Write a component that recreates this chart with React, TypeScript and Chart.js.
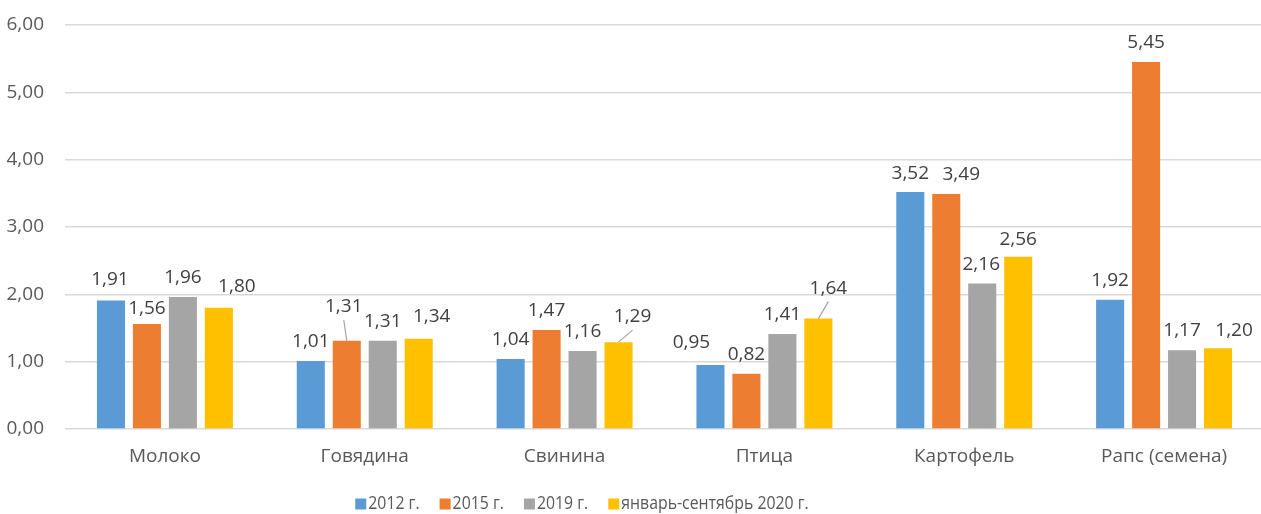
import React, { useEffect, useRef } from 'react';
import { Chart, registerables } from 'chart.js';

Chart.register(...registerables);

// ---- data ----
const categories = ['Молоко', 'Говядина', 'Свинина', 'Птица', 'Картофель', 'Рапс (семена)'];
const seriesNames = ['2012 г.', '2015 г.', '2019 г.', 'январь-сентябрь 2020 г.'];
const values2012 = [1.91, 1.01, 1.04, 0.95, 3.52, 1.92];
const values2015 = [1.56, 1.31, 1.47, 0.82, 3.49, 5.45];
const values2019 = [1.96, 1.31, 1.16, 1.41, 2.16, 1.17];
const values2020 = [1.8, 1.34, 1.29, 1.64, 2.56, 1.2];
const yTickValues = [0, 1, 2, 3, 4, 5, 6];

// ---- styles ----
const seriesColors = ['#5B9BD5', '#ED7D31', '#A5A5A5', '#FFC000'];
const FONT = '"Open Sans", "Noto Sans", sans-serif';
const LEGEND_FONT = '"Open Sans", "Noto Sans", sans-serif';

// label displacement (dx, dy) in px, per series, per category (layout only)
const labelShift2012 = [[-1, -1], [0, 0], [0, 0], [-19, -3], [0, 1], [0, 0]];
const labelShift2015 = [[0, 4], [-3, -15], [0, 0], [0, 0], [15, 0], [0, 0]];
const labelShift2019 = [[0, 0], [0, 0], [0, 0], [0, 0], [-1, 0], [0, 0]];
const labelShift2020 = [[18, -2], [13, -3], [14, -6], [10, -11], [0, 2], [16, 2]];
const labelShifts = [labelShift2012, labelShift2015, labelShift2019, labelShift2020];

const fmt = (v: number) => v.toFixed(2).replace('.', ',');

const dataLabelPlugin = {
  id: 'dataLabels',
  afterDatasetsDraw(chart: any) {
    const ctx = chart.ctx;
    ctx.save();
    ctx.font = `19px ${FONT}`;
    ctx.textAlign = 'center';
    ctx.textBaseline = 'alphabetic';
    chart.data.datasets.forEach((ds: any, i: number) => {
      const meta = chart.getDatasetMeta(i);
      meta.data.forEach((bar: any, j: number) => {
        const [dx, dy] = labelShifts[i][j];
        const cx = bar.x + dx;
        const cy = bar.y - 21 + dy;
        if (dy <= -5) {
          ctx.strokeStyle = '#A6A6A6';
          ctx.lineWidth = 1.2;
          ctx.beginPath();
          ctx.moveTo(bar.x, bar.y);
          ctx.lineTo(cx, cy + 15);
          ctx.stroke();
        }
        ctx.fillStyle = '#404040';
        ctx.fillText(fmt(ds.data[j]), cx, cy + 7);
      });
    });
    ctx.restore();
  },
};

const legendPlugin = {
  id: 'customLegend',
  afterDraw(chart: any) {
    const ctx = chart.ctx;
    ctx.save();
    ctx.font = `18px ${LEGEND_FONT}`;
    const sx = 0.88; // condensed text like the original's narrow face
    const box = 11;
    const gap = 2;
    const spacing = 20;
    const items = chart.data.datasets.map((ds: any) => ({
      text: ds.label,
      color: ds.backgroundColor,
      w: ctx.measureText(ds.label).width * sx,
    }));
    const total =
      items.reduce((s: number, it: any) => s + box + gap + it.w, 0) + spacing * (items.length - 1);
    let x = 582 - total / 2;
    const cy = 504;
    items.forEach((it: any) => {
      ctx.fillStyle = it.color;
      ctx.fillRect(x, cy - box / 2, box, box);
      x += box + gap;
      ctx.save();
      ctx.translate(x, cy);
      ctx.scale(sx, 1);
      ctx.fillStyle = '#595959';
      ctx.textAlign = 'left';
      ctx.textBaseline = 'middle';
      ctx.fillText(it.text, 0, 0);
      ctx.restore();
      x += it.w + spacing;
    });
    ctx.restore();
  },
};

export default function App() {
  const canvasRef = useRef<HTMLCanvasElement | null>(null);

  useEffect(() => {
    if (!canvasRef.current) return;
    const seriesValues = [values2012, values2015, values2019, values2020];
    const chart = new Chart(canvasRef.current, {
      type: 'bar',
      data: {
        labels: categories,
        datasets: seriesNames.map((name, i) => ({
          label: name,
          data: seriesValues[i],
          backgroundColor: seriesColors[i],
          borderWidth: 0,
          barPercentage: 0.78,
          categoryPercentage: 0.72,
        })),
      },
      options: {
        animation: false,
        responsive: false,
        devicePixelRatio: 1,
        layout: { padding: { top: 25, right: 6, bottom: 0, left: 0 } },
        plugins: {
          legend: { display: false },
          tooltip: { enabled: false },
          title: { display: false },
        },
        scales: {
          x: {
            grid: { display: false, drawTicks: false },
            border: { display: false },
            ticks: {
              color: '#595959',
              font: { family: FONT, size: 19 },
              padding: 16,
            },
            afterFit: (scale: any) => {
              scale.height = 85;
            },
          },
          y: {
            min: 0,
            max: 6,
            afterBuildTicks: (scale: any) => {
              scale.ticks = yTickValues.map((v) => ({ value: v }));
            },
            grid: { color: '#D9D9D9', lineWidth: 1.5, drawTicks: false },
            border: { display: false },
            ticks: {
              color: '#595959',
              font: { family: FONT, size: 19 },
              padding: 21,
              callback: (v: any) => fmt(Number(v)),
            },
            afterFit: (scale: any) => {
              scale.width = 65;
              scale.paddingTop = 0;
              scale.paddingBottom = 0;
            },
          },
        },
      },
      plugins: [dataLabelPlugin, legendPlugin],
    });
    return () => chart.destroy();
  }, []);

  return (
    <div
      style={{
        position: 'absolute',
        left: 0,
        top: 0,
        width: 1261,
        height: 514,
        overflow: 'hidden',
        background: '#ffffff',
      }}
    >
      <canvas ref={canvasRef} width={1270} height={514} style={{ width: 1270, height: 514, display: 'block' }} />
    </div>
  );
}
